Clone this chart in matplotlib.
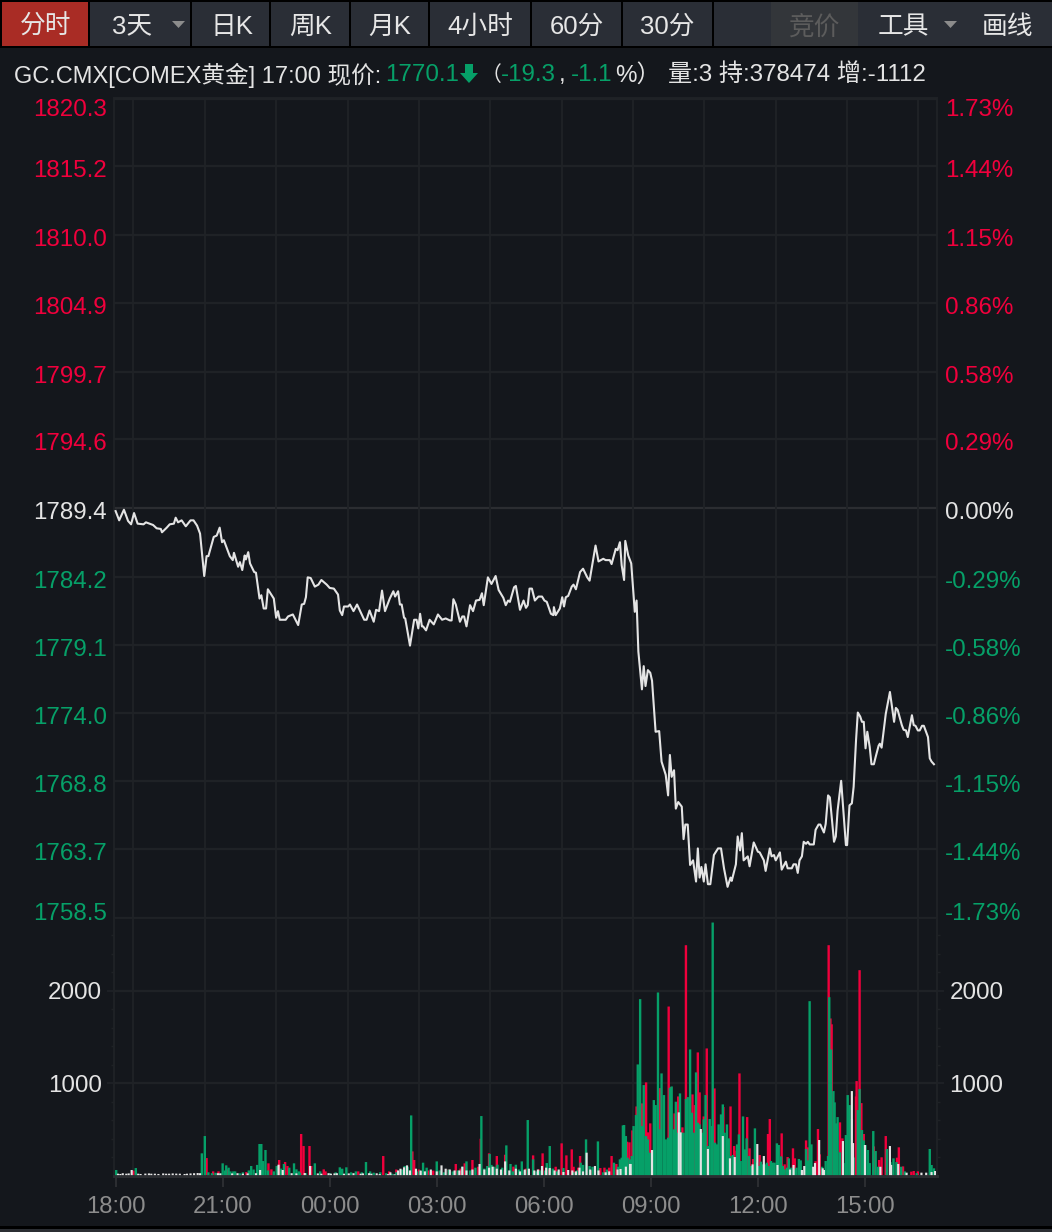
import matplotlib
matplotlib.use("Agg")
import matplotlib.pyplot as plt
from matplotlib.patches import Polygon, Rectangle

W, H = 1052, 1232

# цена: минуты от 18:00 и значение
price_min = [0, 6, 14, 21, 26, 31, 37, 47, 51, 63, 69, 76, 78, 86, 91, 98, 101, 105, 111, 118, 126, 131, 137, 142,
             149, 153, 156, 165, 170, 175, 179, 182, 192, 197, 199, 206, 209, 213, 217, 219, 223, 226, 233, 236,
             242, 245, 249, 253, 256, 266, 270, 273, 276, 286, 290, 298, 307, 313, 317, 320, 323, 328, 335, 341,
             346, 355, 360, 367, 374, 377, 381, 384, 391, 394, 400, 406, 418, 422, 427, 434, 438, 443, 448, 453,
             461, 467, 470, 475, 478, 481, 485, 487, 495, 502, 506, 509, 512, 515, 517, 522, 528, 535, 542, 549,
             555, 562, 565, 568, 572, 579, 583, 586, 590, 596, 601, 606, 612, 616, 619, 626, 632, 639, 644, 652,
             656, 660, 663, 670, 673, 680, 686, 690, 693, 696, 700, 705, 711, 717, 721, 725, 732, 736, 737, 740,
             747, 751, 754, 757, 761, 767, 770, 774, 781, 786, 793, 797, 807, 812, 820, 824, 831, 834, 841, 844,
             848, 851, 855, 857, 862, 867, 873, 876, 879, 885, 888, 891, 895, 899, 902, 908, 914, 918, 925, 929,
             932, 935, 939, 942, 946, 952, 955, 958, 962, 966, 971, 976, 979, 982, 985, 989, 992, 996, 1000, 1006,
             1013, 1018, 1023, 1029, 1034, 1036, 1043, 1046, 1050, 1053, 1056, 1063, 1066, 1073, 1080, 1083, 1090,
             1093, 1100, 1103, 1107, 1110, 1117, 1120, 1127, 1130, 1137, 1140, 1144, 1147, 1150, 1154, 1157, 1161,
             1164, 1167, 1174, 1177, 1182, 1185, 1191, 1194, 1198, 1201, 1208, 1211, 1214, 1220, 1228, 1230, 1234,
             1238, 1241, 1245, 1248, 1252, 1255, 1258, 1261, 1264, 1268, 1271, 1275, 1278, 1283, 1285, 1288, 1295,
             1302, 1309, 1312, 1315, 1322, 1325, 1329, 1332, 1339, 1342, 1345, 1349, 1352, 1356, 1359, 1366, 1369,
             1372, 1376]
price_val = [1789.2, 1788.5, 1789.3, 1788.45, 1788.2, 1789.05, 1788.25, 1788.2, 1788.35, 1788.15, 1787.9, 1787.85,
             1787.6, 1787.95, 1788.2, 1788.25, 1788.7, 1788.35, 1788.5, 1788.05, 1788.5, 1788.5, 1788.1, 1787.5,
             1784.3, 1785.8, 1785.8, 1787.25, 1787.35, 1787.95, 1786.85, 1787.0, 1785.8, 1785.5, 1786.05, 1785.0,
             1785.35, 1784.75, 1785.85, 1785.55, 1786.1, 1785.25, 1784.6, 1784.55, 1782.6, 1782.85, 1781.85, 1781.85,
             1783.3, 1782.6, 1781.15, 1781.65, 1781.0, 1781.0, 1781.25, 1781.4, 1780.6, 1782.15, 1782.2, 1782.7,
             1784.2, 1784.15, 1783.5, 1783.65, 1784.0, 1783.65, 1783.4, 1783.35, 1782.9, 1781.7, 1781.35, 1782.0,
             1782.0, 1782.15, 1781.65, 1782.15, 1781.0, 1781.0, 1781.7, 1780.85, 1781.75, 1781.65, 1783.2, 1781.65,
             1782.6, 1783.15, 1782.75, 1783.15, 1782.15, 1782.15, 1781.15, 1781.1, 1779.05, 1781.0, 1781.0, 1780.35,
             1781.45, 1780.5, 1780.5, 1780.2, 1781.0, 1780.65, 1781.4, 1781.0, 1781.1, 1780.95, 1780.95, 1782.55,
             1782.15, 1780.85, 1781.25, 1781.25, 1780.5, 1782.1, 1781.65, 1782.45, 1782.5, 1783.0, 1782.1, 1784.2,
             1783.7, 1784.3, 1783.25, 1782.65, 1782.1, 1782.45, 1782.35, 1783.45, 1783.55, 1781.75, 1782.45, 1781.9,
             1782.1, 1783.35, 1783.35, 1782.45, 1782.75, 1782.75, 1782.45, 1782.35, 1781.45, 1781.35, 1781.95, 1781.35,
             1781.85, 1782.7, 1782.0, 1782.7, 1782.8, 1783.5, 1783.65, 1783.3, 1784.6, 1784.85, 1784.2, 1783.95,
             1786.6, 1785.4, 1785.6, 1785.5, 1785.5, 1785.2, 1786.35, 1786.25, 1786.85, 1785.1, 1784.0, 1786.95,
             1785.85, 1785.25, 1781.6, 1782.45, 1778.6, 1775.75, 1777.5, 1776.0, 1777.2, 1777.0, 1776.4, 1772.55,
             1772.6, 1770.3, 1769.3, 1767.75, 1770.8, 1769.15, 1769.65, 1766.75, 1767.25, 1766.9, 1764.45, 1765.55,
             1765.55, 1762.5, 1762.85, 1761.25, 1763.75, 1761.55, 1762.35, 1761.25, 1762.55, 1761.05, 1761.05, 1763.25,
             1763.75, 1763.75, 1762.25, 1760.85, 1761.55, 1761.3, 1762.55, 1764.65, 1763.6, 1764.9, 1762.85, 1763.15,
             1762.4, 1764.2, 1763.5, 1763.45, 1762.85, 1762.05, 1763.75, 1763.15, 1763.25, 1762.85, 1763.45, 1762.15,
             1762.75, 1762.25, 1762.25, 1762.55, 1762.55, 1761.9, 1762.85, 1763.15, 1764.25, 1764.1, 1764.25, 1764.05,
             1764.05, 1765.15, 1765.55, 1765.55, 1764.95, 1765.6, 1767.75, 1767.6, 1764.25, 1764.65, 1766.6, 1768.85,
             1764.0, 1764.0, 1767.0, 1767.15, 1768.4, 1771.9, 1774.0, 1773.7, 1773.3, 1773.3, 1771.3, 1772.55,
             1771.4, 1770.1, 1770.1, 1770.65, 1771.5, 1771.65, 1771.35, 1773.9, 1775.55, 1773.3, 1774.35, 1774.2,
             1773.05, 1772.7, 1772.65, 1772.15, 1773.8, 1773.05, 1773.0, 1772.65, 1772.65, 1773.0, 1773.0, 1772.15,
             1770.55, 1770.3, 1770.1]

# объём по цветам: минуты и значение
green_min = [1, 34, 145, 150, 180, 186, 193, 201, 209, 228, 242, 245, 248, 252, 271, 283, 300, 304, 310, 335, 377, 381,
             388, 421, 434, 445, 455, 465, 472, 482, 486, 491, 497, 507, 512, 517, 523, 530, 540, 545, 552, 560, 567,
             575, 583, 590, 596, 605, 615, 620, 625, 629, 632, 637, 642, 650, 657, 664, 668, 673, 678, 683, 688, 693,
             702, 708, 713, 722, 725, 730, 735, 742, 753, 770, 776, 782, 786, 791, 797, 802, 811, 820, 826, 838, 845, 853,
             848, 851, 855, 858, 861, 865, 868, 871, 875, 878, 882, 885, 888, 892, 895, 898, 902, 905, 908, 912, 915,
             918, 922, 925, 929, 932, 935, 939, 942, 945, 949, 952, 955, 959, 962, 966, 969, 972, 976, 979, 982, 986,
             989, 992, 996, 999, 1003, 1004, 1008, 1011, 1014, 1018, 1021, 1024, 1028, 1031, 1034, 1038, 1041, 1045,
             1048, 1051, 1055, 1058, 1061, 1065, 1068, 1071, 1075, 1078, 1082, 1085, 1088, 1092, 1095, 1098, 1102,
             1105, 1108, 1112, 1115, 1119, 1122, 1125, 1129, 1132, 1135, 1139, 1142, 1145, 1149, 1152, 1161, 1164,
             1167, 1170, 1188, 1194, 1198, 1200, 1203, 1207, 1209, 1211, 1214, 1218, 1224, 1228, 1231, 1234, 1238,
             1241, 1248, 1251, 1255, 1258, 1261, 1265, 1268, 1274, 1278, 1282, 1297, 1303, 1308, 1313, 1321, 1327,
             1347, 1369, 1372, 1376,
             156, 162, 168, 176, 184, 190, 198, 214, 224, 232, 238, 256, 266, 278, 292, 308, 320, 344, 360, 370,
             396, 404, 414, 428]
green_vol = [65, 86, 245, 432, 137, 115, 50, 50, 29, 108, 346, 346, 162, 281, 108, 130, 137, 72, 36, 137, 94, 79,
             94, 151, 36, 40, 30, 25, 40, 70, 108, 100, 655, 50, 60, 144, 90, 50, 158, 60, 40, 70, 50,
             60, 100, 158, 60, 90, 648, 80, 108, 238, 120, 100, 122, 90, 331, 130, 50, 122, 70, 158, 60, 605,
             180, 50, 60, 60, 140, 324, 80, 50, 86, 40, 60, 144, 120, 396, 108, 100, 374, 40, 70, 144, 100, 547,
             180, 198, 551, 432, 198, 180, 216, 540, 659, 1206, 1912, 540, 983, 432, 396, 252, 252, 821, 767, 1984, 504,
             1109, 875, 396, 414, 954, 968, 504, 803, 468, 893, 468, 468, 832, 853, 1368, 684, 468, 1120, 576, 558, 468,
             612, 875, 324, 616, 540, 2740, 360, 342, 558, 666, 774, 468, 558, 407, 216, 227, 144, 342,
             450, 162, 644, 288, 407, 216, 108, 72, 515, 144, 108, 155, 126, 126, 144, 108, 162,
             144, 144, 353, 335, 212, 108, 72, 90, 191, 90, 90, 72, 90, 184, 169, 292, 169,
             1890, 342, 100, 162, 216, 1933, 1368, 918, 796, 569, 637, 256, 140, 443, 875, 767, 616,
             200, 713, 940, 497, 385, 335, 281, 140, 486, 270, 100, 292, 150, 191, 150, 100, 50,
             30, 292, 119, 83,
             40, 30, 35, 30, 60, 90, 50, 40, 60, 70, 120, 60, 50, 80, 90, 50, 30, 50, 30, 40,
             40, 50, 40, 50]

red_min = [30, 153, 164, 173, 188, 220, 257, 262, 275, 285, 289, 312, 316, 326, 329, 350, 353, 408, 450, 499, 502, 534,
           572, 587, 600, 614, 628, 641, 655, 669, 702, 718, 750, 758, 767, 781, 815, 834, 842,
           860, 864, 869, 876, 885, 892, 895, 899, 915, 930, 933, 940, 946, 953, 959, 970, 974, 979, 982, 989, 994,
           1007, 1022, 1034, 1040, 1044, 1049, 1062, 1066, 1072, 1083, 1097, 1100, 1120, 1125, 1130, 1139, 1142,
           1161, 1164, 1177, 1181, 1184, 1199, 1202, 1204, 1218, 1222, 1245, 1246, 1251, 1254, 1258, 1275, 1284,
           1288, 1295, 1314, 1317, 1324, 1338, 1342, 1349,
           460, 472, 510, 525, 545, 560, 580, 610, 625, 650, 690, 712, 728, 740, 770, 778, 800, 822, 830]
red_vol = [58, 194, 50, 50, 72, 43, 137, 72, 173, 151, 108, 454, 324, 324, 108, 72, 50, 50, 216, 266, 173, 58,
           130, 137, 173, 403, 245, 216, 230, 101, 223, 245, 353, 223, 288, 216, 86, 216, 130,
           371, 364, 493, 752, 785, 1012, 472, 569, 950, 1832, 961, 677, 860, 526, 2495, 882, 767, 1336, 904, 644, 1379,
           947, 745, 752, 324, 274, 1109, 637, 299, 184, 227, 454, 616, 461, 126, 205, 299, 191,
           385, 310, 160, 508, 234, 2495, 1703, 1640, 580, 407, 860, 1026, 2225, 788, 454, 320, 173,
           202, 432, 198, 310, 104, 47, 54, 50,
           50, 70, 70, 60, 50, 70, 80, 100, 90, 60, 80, 70, 70, 100, 100, 90, 60, 90, 90]

white_min = [4, 8, 12, 18, 22, 27, 38, 42, 50, 56, 60, 66, 72, 80, 85, 90, 96, 102, 108, 116, 120, 126, 132, 138, 142,
             172, 176, 196, 205, 214, 222, 236, 243, 274, 281, 296, 304, 318, 327, 340, 346, 358, 362, 368, 372, 384,
             392, 400, 412, 416, 426, 430, 439, 444, 458, 469, 479, 485, 490, 505, 513, 548, 555, 583, 612, 634, 641,
             655, 673, 695, 717, 730, 753, 761, 792, 806, 858, 865,
             849, 866, 902, 947, 950, 984, 996, 1021, 1033, 1041, 1071, 1079, 1090, 1113, 1134, 1140,
             1154, 1158, 1173, 1176, 1183, 1189, 1191, 1223, 1238, 1240, 1260, 1286, 1302, 1304, 1316, 1330, 1355, 1363,
             1372, 1378,
             462, 475, 495, 520, 530, 540, 562, 570, 578, 590, 600, 620, 628, 648, 662, 680, 688, 704, 710, 724,
             738, 745, 768, 774, 780, 786, 798, 812, 824, 830, 844]
white_vol = [25, 22, 30, 25, 28, 65, 25, 22, 26, 28, 25, 25, 22, 28, 25, 25, 28, 26, 25, 22, 25, 28, 30, 32, 30,
             30, 28, 28, 30, 25, 28, 30, 65, 122, 65, 30, 28, 32, 108, 28, 25, 30, 25, 28, 30, 25,
             28, 30, 25, 28, 30, 25, 29, 20, 20, 18, 79, 94, 115, 79, 58, 115, 79, 101, 130, 101, 79,
             158, 79, 79, 108, 86, 43, 65, 252, 108, 101, 130,
             76, 130, 281, 688, 472, 508, 292, 432, 191, 205, 126, 346, 216, 119, 70, 119,
             65, 108, 100, 140, 389, 83, 65, 378, 918, 356, 335, 100, 324, 120, 130, 36, 36, 36,
             43, 54,
             40, 60, 60, 50, 70, 50, 70, 60, 60, 60, 70, 70, 90, 70, 60, 50, 70, 60, 70, 90,
             60, 70, 60, 50, 90, 50, 70, 60, 40, 50, 70]

# подписи шкал
price_ticks = [1820.3, 1815.2, 1810.0, 1804.9, 1799.7, 1794.6, 1789.4, 1784.2, 1779.1, 1774.0, 1768.8, 1763.7, 1758.5]
pct_labels = ["1.73%", "1.44%", "1.15%", "0.86%", "0.58%", "0.29%", "0.00%",
              "-0.29%", "-0.58%", "-0.86%", "-1.15%", "-1.44%", "-1.73%"]
vol_ticks = [1000, 2000]
time_ticks = [0, 180, 360, 540, 720, 900, 1080, 1260]
time_labels = ["18:00", "21:00", "00:00", "03:00", "06:00", "09:00", "12:00", "15:00"]
vgrid_min = [30, 150, 270, 390, 510, 630, 750, 870, 990, 1110, 1230, 1350]

BG = "#14171c"
GRID = "#1f2226"
RED = "#f0003c"
GREEN = "#06a068"
WHITE = "#e4e4e4"
GRAY = "#8c8c8c"
FS = 17.4

plt.rcParams["font.family"] = ["Liberation Sans", "Noto Sans CJK SC", "DejaVu Sans"]

fig = plt.figure(figsize=(W / 100, H / 100), dpi=100, facecolor=BG)


def px_rect(x0, y0, x1, y1, color):
    fig.add_artist(Rectangle((x0 / W, 1 - y1 / H), (x1 - x0) / W, (y1 - y0) / H,
                             transform=fig.transFigure, facecolor=color, edgecolor="none"))


def px_poly(points, color):
    fig.add_artist(Polygon([(x / W, 1 - y / H) for x, y in points], closed=True,
                           transform=fig.transFigure, facecolor=color, edgecolor="none"))


def px_text(x, y, s, color=WHITE, size=FS, ha="left", **kw):
    fig.text(x / W, 1 - y / H, s, color=color, fontsize=size, ha=ha, va="center", **kw)


def px_axes(x0, y0, x1, y1):
    ax = fig.add_axes([x0 / W, 1 - y1 / H, (x1 - x0) / W, (y1 - y0) / H])
    ax.set_facecolor("none")
    return ax


# верхняя панель с кнопками
px_rect(0, 0, W, 48, "#000000")
px_rect(0, 1226, W, 1229, "#000000")
px_rect(0, 1229, W, H, "#2b2e33")
buttons = [(2, 88, "分时", 46), (90, 190, "3天", 132), (192, 269, "日K", 232), (271, 349, "周K", 311),
           (351, 428, "月K", 390), (430, 530, "4小时", 480), (532, 621, "60分", 577), (623, 712, "30分", 667),
           (714, 771, "", 0), (771, 858, "竞价", 815), (858, 1052, "工具", 903)]
for x0, x1, label, cx in buttons:
    color = "#a92c25" if label == "分时" else "#33363a" if label == "竞价" else "#2a2e36"
    px_rect(x0, 2, x1, 46, color)
    if label:
        px_text(cx, 27, label, color="#5c5c5c" if label == "竞价" else "#e6e6e6", size=18.5, ha="center")
px_text(1007, 27, "画线", color="#e6e6e6", size=18.5, ha="center")
px_poly([(172, 21), (185, 21), (178.5, 28)], GRAY)
px_poly([(944, 21), (957, 21), (950.5, 28)], GRAY)

# строка с котировкой
px_text(14, 75, "GC.CMX[COMEX黄金] 17:00 现价:", size=17.0)
px_text(385, 75, "1770.1", color=GREEN)
px_poly([(465, 64), (473, 64), (473, 73), (478, 73), (469, 83), (460, 73), (465, 73)], GREEN)
px_text(481, 75, "（", size=15)
px_text(501, 75, "-19.3", color=GREEN)
px_text(559, 75, ",")
px_text(571, 75, "-1.1", color=GREEN)
px_text(615, 75, "%）")
px_text(668, 75, "量:3 持:378474 增:-1112")

# цена
ax = px_axes(114, 97.5, 937.5, 918)
ax.set_xlim(-2.7, 1382)
ax.set_ylim(1758.5, 1820.4)
for tick in price_ticks:
    ax.axhline(tick, color="#2b2d31" if tick == 1789.4 else GRID, lw=1.6, zorder=1)
for m in vgrid_min:
    ax.axvline(m, color=GRID, lw=1.4, zorder=1)
ax.plot(price_min, price_val, color=WHITE, lw=1.5, zorder=3)
ax.set_xticks([])
ax.set_yticks([])
for spine in ax.spines.values():
    spine.set_color(GRID)
    spine.set_linewidth(1.4)

for i, (tick, pct) in enumerate(zip(price_ticks, pct_labels)):
    color = RED if tick > 1789.4 else GREEN if tick < 1789.4 else WHITE
    dy = {0: -11, 12: 4}.get(i, -5)
    for text, x, align in [(f"{tick:.1f}", -7, "right"), (pct, 831, "left")]:
        ax.annotate(text, xy=(0, tick), xycoords=ax.get_yaxis_transform(),
                    xytext=(x * 0.72, dy * 0.72), textcoords="offset points",
                    color=color, fontsize=FS, ha=align, va="center", annotation_clip=False)

# объём
ax_vol = px_axes(114, 918, 937.5, 1176)
ax_vol.set_xlim(-2.7, 1382)
ax_vol.set_ylim(0, 2789)
for tick in vol_ticks:
    ax_vol.axhline(tick, color=GRID, lw=1.6, zorder=1)
for m in vgrid_min:
    ax_vol.axvline(m, color=GRID, lw=1.4, zorder=1)
ax_vol.bar(red_min, red_vol, width=4.0, color=RED, zorder=2, snap=False)
ax_vol.bar(green_min, green_vol, width=4.0, color=GREEN, zorder=3, snap=False)
ax_vol.bar(white_min, white_vol, width=3.6, color=WHITE, zorder=4, snap=False)

ax_vol.set_xticks(time_ticks)
ax_vol.set_xticklabels(time_labels, color=GRAY, fontsize=17.2)
ax_vol.tick_params(axis="x", length=8, width=1.5, color="#2b2d31", pad=6.5)
ax_vol.set_yticks(vol_ticks)
ax_vol.set_yticklabels(["1000", "2000"], color=WHITE, fontsize=FS)
ax_vol.set_yticks(list(range(200, 2700, 200)), minor=True)
ax_vol.tick_params(axis="y", which="major", length=5, width=1.3, color=GRID, pad=3.5)
ax_vol.tick_params(axis="y", which="minor", length=2.5, width=1, color=GRID)

ax_right = ax_vol.twinx()
ax_right.set_ylim(0, 2789)
ax_right.set_yticks(vol_ticks)
ax_right.set_yticklabels(["1000", "2000"], color=WHITE, fontsize=FS)
ax_right.set_yticks(list(range(200, 2700, 200)), minor=True)
ax_right.tick_params(axis="y", which="major", length=5, width=1.3, color=GRID, pad=3.5)
ax_right.tick_params(axis="y", which="minor", length=2.5, width=1, color=GRID)

for a in (ax_vol, ax_right):
    a.spines["top"].set_visible(False)
    a.spines["left"].set_color(GRID)
    a.spines["right"].set_color(GRID)
    a.spines["bottom"].set_color("#2b2d31")
    a.spines["left"].set_linewidth(1.4)
    a.spines["right"].set_linewidth(1.4)
    a.spines["bottom"].set_linewidth(2)

fig.savefig("out.png", dpi=100, facecolor=BG)
